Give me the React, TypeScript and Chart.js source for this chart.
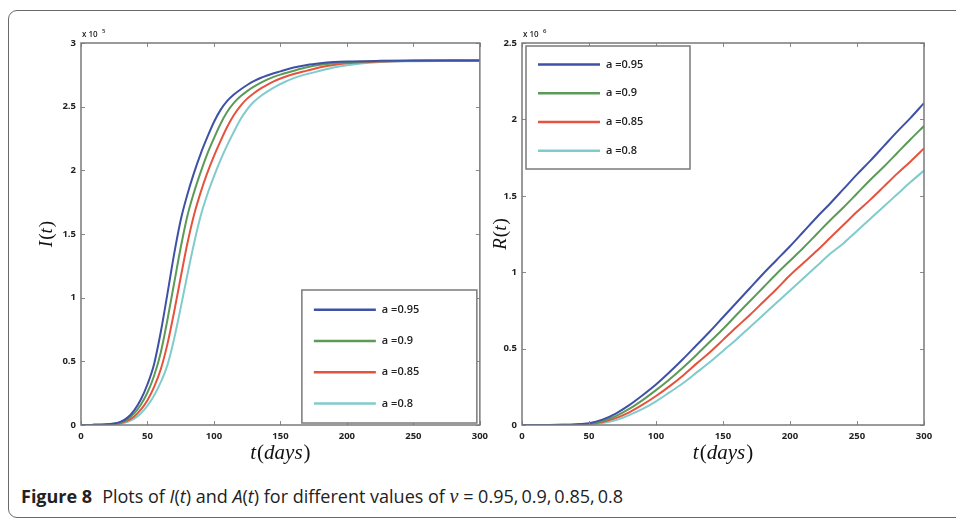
import React, { useEffect, useRef } from "react";
import { Chart, registerables } from "chart.js";
Chart.register(...registerables);

const LABELS = ["a =0.95", "a =0.9", "a =0.85", "a =0.8"];
const COLORS = ["#3f51a6", "#5c9a58", "#e5533f", "#80cbcc"];
const X_TICKS = [0, 50, 100, 150, 200, 250, 300];
const I_TICKS = [0, 0.5, 1, 1.5, 2, 2.5, 3];
const R_TICKS = [0, 0.5, 1, 1.5, 2, 2.5];

const I_DAYS = [0, 5, 10, 15, 20, 25, 30, 35, 40, 45, 50, 55, 60, 65, 70, 75, 80, 85, 90, 95, 100, 105, 110, 115, 120, 125, 130, 135, 140, 145, 150, 160, 170, 180, 190, 200, 225, 250, 275, 300];
const I_095 = [0, 0, 0.001, 0.002, 0.005, 0.011, 0.026, 0.058, 0.115, 0.2, 0.32, 0.48, 0.73, 1.03, 1.34, 1.61, 1.81, 1.98, 2.13, 2.26, 2.38, 2.475, 2.545, 2.595, 2.635, 2.67, 2.7, 2.725, 2.745, 2.762, 2.777, 2.807, 2.828, 2.841, 2.85, 2.855, 2.86, 2.862, 2.862, 2.862];
const I_090 = [0, 0, 0.001, 0.002, 0.004, 0.009, 0.021, 0.046, 0.091, 0.159, 0.255, 0.387, 0.57, 0.826, 1.111, 1.394, 1.642, 1.827, 1.986, 2.13, 2.252, 2.366, 2.46, 2.53, 2.581, 2.622, 2.657, 2.687, 2.713, 2.734, 2.752, 2.782, 2.809, 2.829, 2.841, 2.849, 2.857, 2.861, 2.862, 2.862];
const I_085 = [0, 0, 0.001, 0.001, 0.003, 0.007, 0.016, 0.034, 0.067, 0.12, 0.195, 0.3, 0.438, 0.635, 0.886, 1.16, 1.426, 1.65, 1.827, 1.98, 2.112, 2.231, 2.342, 2.435, 2.507, 2.563, 2.605, 2.641, 2.671, 2.698, 2.721, 2.756, 2.783, 2.809, 2.828, 2.84, 2.855, 2.86, 2.862, 2.862];
const I_080 = [0, 0, 0, 0.001, 0.003, 0.006, 0.012, 0.025, 0.05, 0.091, 0.151, 0.231, 0.336, 0.47, 0.675, 0.922, 1.179, 1.426, 1.642, 1.81, 1.953, 2.082, 2.198, 2.303, 2.401, 2.479, 2.538, 2.582, 2.618, 2.65, 2.678, 2.724, 2.756, 2.782, 2.807, 2.825, 2.85, 2.857, 2.86, 2.862];

const R_DAYS = [0, 10, 20, 30, 40, 50, 60, 70, 80, 90, 100, 110, 120, 130, 140, 150, 160, 170, 180, 190, 200, 210, 220, 230, 240, 250, 260, 270, 280, 290, 300];
const R_095 = [0, 0, 0, 0.001, 0.004, 0.012, 0.035, 0.075, 0.13, 0.195, 0.265, 0.345, 0.43, 0.52, 0.61, 0.705, 0.8, 0.895, 0.99, 1.08, 1.17, 1.265, 1.36, 1.45, 1.545, 1.64, 1.73, 1.825, 1.92, 2.01, 2.107];
const R_090 = [0, 0, 0, 0.001, 0.003, 0.009, 0.026, 0.058, 0.105, 0.163, 0.228, 0.298, 0.375, 0.457, 0.543, 0.628, 0.72, 0.81, 0.9, 0.99, 1.075, 1.16, 1.25, 1.34, 1.425, 1.515, 1.605, 1.69, 1.78, 1.87, 1.957];
const R_085 = [0, 0, 0, 0, 0.002, 0.007, 0.02, 0.045, 0.083, 0.133, 0.19, 0.253, 0.323, 0.4, 0.475, 0.557, 0.64, 0.72, 0.805, 0.89, 0.98, 1.06, 1.14, 1.225, 1.31, 1.395, 1.475, 1.56, 1.645, 1.725, 1.81];
const R_080 = [0, 0, 0, 0, 0.002, 0.006, 0.013, 0.032, 0.065, 0.105, 0.155, 0.213, 0.273, 0.341, 0.41, 0.485, 0.56, 0.64, 0.72, 0.8, 0.88, 0.96, 1.04, 1.12, 1.19, 1.27, 1.35, 1.43, 1.51, 1.59, 1.665];

type Part = { t: string; it: boolean };
const I_TITLE: Part[] = [{ t: "I", it: true }, { t: "(", it: false }, { t: "t", it: true }, { t: ")", it: false }];
const R_TITLE: Part[] = [{ t: "R", it: true }, { t: "(", it: false }, { t: "t", it: true }, { t: ")", it: false }];
const X_TITLE: Part[] = [{ t: "t", it: true }, { t: "(", it: false }, { t: "days", it: true }, { t: ")", it: false }];

function drawMath(ctx: CanvasRenderingContext2D, parts: Part[], cx: number, cy: number, size: number) {
  const fam = '"Liberation Serif", serif';
  let total = 0;
  const widths = parts.map((p) => {
    ctx.font = `${p.it ? "italic " : ""}${size}px ${fam}`;
    const w = ctx.measureText(p.t).width + (p.it ? 1 : 0);
    total += w;
    return w;
  });
  let x = cx - total / 2;
  ctx.textBaseline = "middle";
  ctx.textAlign = "left";
  ctx.fillStyle = "#111";
  parts.forEach((p, i) => {
    ctx.font = `${p.it ? "italic " : ""}${size}px ${fam}`;
    ctx.fillText(p.t, x, cy);
    x += widths[i];
  });
}

type PanelProps = {
  days: number[];
  series: number[][];
  yMax: number;
  yTicks: number[];
  exponent: string;
  yTitle: Part[];
  legendPos: "br" | "tl";
  left: number;
  width: number;
  pad: { left: number; right: number };
  yTitleX: number;
  legendSize: { w: number; h: number };
};

function Panel(props: PanelProps) {
  const ref = useRef<HTMLCanvasElement>(null);
  useEffect(() => {
    const canvas = ref.current!;
    const frame = {
      id: "frame",
      afterDraw(chart: any) {
        const ctx = chart.ctx as CanvasRenderingContext2D;
        const a = chart.chartArea;
        const xs = chart.scales.x;
        const ys = chart.scales.y;
        ctx.save();
        ctx.strokeStyle = "#8a8a8a";
        ctx.lineWidth = 1;
        X_TICKS.forEach((v) => {
          const x = Math.round(xs.getPixelForValue(v)) + 0.5;
          ctx.beginPath();
          ctx.moveTo(x, a.bottom);
          ctx.lineTo(x, a.bottom - 4);
          ctx.moveTo(x, a.top);
          ctx.lineTo(x, a.top + 4);
          ctx.stroke();
        });
        props.yTicks.forEach((v) => {
          const y = Math.round(ys.getPixelForValue(v)) + 0.5;
          ctx.beginPath();
          ctx.moveTo(a.left, y);
          ctx.lineTo(a.left + 4, y);
          ctx.moveTo(a.right, y);
          ctx.lineTo(a.right - 4, y);
          ctx.stroke();
        });
        ctx.strokeStyle = "#7a7a7a";
        ctx.lineWidth = 1.5;
        ctx.strokeRect(a.left, a.top, a.right - a.left, a.bottom - a.top);
        ctx.fillStyle = "#222";
        ctx.textBaseline = "alphabetic";
        ctx.textAlign = "left";
        ctx.font = '600 8px "Open Sans", sans-serif';
        ctx.fillText("x 10", a.left + 1, a.top - 6);
        ctx.font = '600 6px "Open Sans", sans-serif';
        ctx.fillText(props.exponent, a.left + 21, a.top - 10);
        const lw = props.legendSize.w;
        const lh = props.legendSize.h;
        const lx = props.legendPos === "br" ? a.right - lw - 3 : a.left + 4;
        const ly = props.legendPos === "br" ? a.bottom - lh - 2 : a.top + 3;
        ctx.fillStyle = "#fff";
        ctx.fillRect(lx, ly, lw, lh);
        ctx.strokeStyle = "#7a7a7a";
        ctx.lineWidth = 1.5;
        ctx.strokeRect(lx, ly, lw, lh);
        const step = (lh - 8) / 4;
        chart.data.datasets.forEach((ds: any, i: number) => {
          const y = ly + 4 + step * (i + 0.5);
          ctx.strokeStyle = ds.borderColor;
          ctx.lineWidth = 2.5;
          ctx.beginPath();
          ctx.moveTo(lx + 12, y);
          ctx.lineTo(lx + 74, y);
          ctx.stroke();
          ctx.fillStyle = "#222";
          ctx.font = '600 11px "Open Sans", sans-serif';
          ctx.textBaseline = "middle";
          ctx.fillText(ds.label, lx + 80, y);
        });
        drawMath(ctx, X_TITLE, (a.left + a.right) / 2, a.bottom + 28, 21);
        ctx.save();
        ctx.translate(props.yTitleX, (a.top + a.bottom) / 2);
        ctx.rotate(-Math.PI / 2);
        drawMath(ctx, props.yTitle, 0, 0, 19);
        ctx.restore();
        ctx.restore();
      },
    };
    const tickFont = { family: '"Open Sans", sans-serif', size: 9.5, weight: "bold" };
    const chart = new Chart(canvas, {
      type: "line",
      data: {
        datasets: props.series.map((s, i) => ({
          label: LABELS[i],
          data: props.days.map((d, j) => ({ x: d, y: s[j] })),
          borderColor: COLORS[i],
          borderWidth: 2,
          pointRadius: 0,
          tension: 0.4,
          cubicInterpolationMode: "monotone" as const,
          fill: false,
        })),
      },
      options: {
        animation: false,
        responsive: false,
        events: [],
        layout: { padding: { top: 43, bottom: 25, left: props.pad.left, right: props.pad.right } },
        plugins: { legend: { display: false }, tooltip: { enabled: false } },
        scales: {
          x: {
            type: "linear",
            min: 0,
            max: 300,
            afterFit: (s: any) => { s.height = 20; },
            afterBuildTicks: (s: any) => { s.ticks = X_TICKS.map((v) => ({ value: v })); },
            grid: { display: false, drawTicks: false },
            border: { display: false },
            ticks: { padding: 6, color: "#222", font: tickFont, callback: (v: any) => String(v) },
          },
          y: {
            type: "linear",
            min: 0,
            max: props.yMax,
            afterFit: (s: any) => { s.width = 30; },
            afterBuildTicks: (s: any) => { s.ticks = props.yTicks.map((v) => ({ value: v })); },
            grid: { display: false, drawTicks: false },
            border: { display: false },
            ticks: { padding: 5, color: "#222", font: tickFont, callback: (v: any) => String(v) },
          },
        },
      },
      plugins: [frame],
    } as any);
    return () => chart.destroy();
  }, []);
  return (
    <canvas
      ref={ref}
      width={props.width}
      height={470}
      style={{ position: "absolute", left: props.left, top: 0, width: props.width, height: 470 }}
    />
  );
}

export default function App() {
  useEffect(() => {
    document.body.style.margin = "0";
  }, []);
  return (
    <div style={{ position: "relative", width: 956, height: 526, overflow: "hidden", background: "#fff" }}>
      <div
        style={{
          position: "absolute",
          left: 8,
          top: 10,
          width: 970,
          height: 506,
          border: "1.5px solid #6a6a6a",
          borderRadius: 9,
        }}
      />
      <Panel
        days={I_DAYS}
        series={[I_095, I_090, I_085, I_080]}
        yMax={3}
        yTicks={I_TICKS}
        exponent="5"
        yTitle={I_TITLE}
        legendPos="br"
        left={0}
        width={494}
        pad={{ left: 51, right: 14 }}
        yTitleX={47}
        legendSize={{ w: 175, h: 133 }}
      />
      <Panel
        days={R_DAYS}
        series={[R_095, R_090, R_085, R_080]}
        yMax={2.5}
        yTicks={R_TICKS}
        exponent="6"
        yTitle={R_TITLE}
        legendPos="tl"
        left={485}
        width={471}
        pad={{ left: 7, right: 32 }}
        yTitleX={16}
        legendSize={{ w: 164, h: 123 }}
      />
      <div
        style={{
          position: "absolute",
          left: 21,
          top: 484,
          fontFamily: '"Open Sans", sans-serif',
          fontSize: 18,
          color: "#222",
          whiteSpace: "nowrap",
          lineHeight: "24px",
        }}
      >
        <b>Figure 8</b>
        <span style={{ marginLeft: 10 }}>
          Plots of <i>I</i>(<i>t</i>) and <i>A</i>(<i>t</i>) for different values of{" "}
          <i style={{ fontFamily: '"Liberation Serif", serif', fontSize: 20 }}>ν</i> = 0.95,{"\u2009"}0.9,{"\u2009"}0.85,{"\u2009"}0.8
        </span>
      </div>
    </div>
  );
}
